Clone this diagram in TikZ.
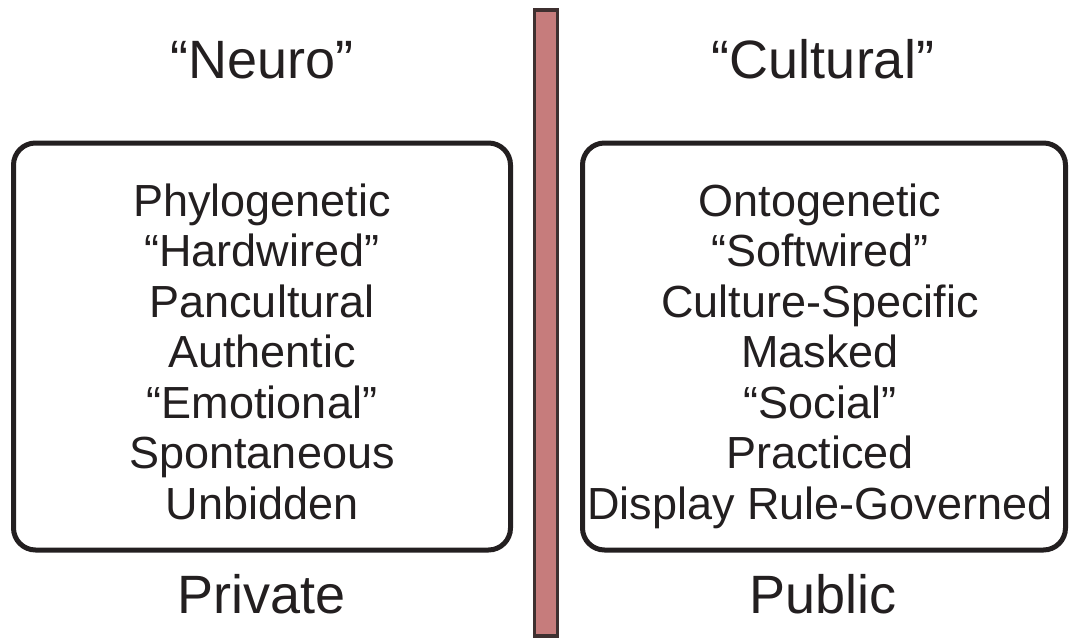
\documentclass[tikz,border=0pt]{standalone}
\usepackage{fontspec}
\setmainfont{Liberation Sans}
\definecolor{ink}{RGB}{35,31,32}
\definecolor{barfill}{RGB}{198,124,124}
\definecolor{baredge}{RGB}{62,48,48}
\begin{document}
\begin{tikzpicture}
[x=1pt, y=-1pt,
 head/.style={anchor=base, text=ink, inner sep=0pt, font=\fontsize{54}{60}\selectfont},
 item/.style={anchor=base, text=ink, inner sep=0pt, font=\fontsize{45}{50}\selectfont},
 panel/.style={draw=ink, line width=5pt, rounded corners=22pt},
]
\useasboundingbox (0,0) rectangle (1071,643);

%divider
\draw[draw=baredge, fill=barfill, line width=3.5pt] (534.5,10) rectangle (557.5,636);

%Neuro
\node[head] (neurohead) at (262,78) {“Neuro”};
\draw[panel] (13.5,143) rectangle (510.5,550);
\foreach \txt [count=\i] in {Phylogenetic, “Hardwired”, Pancultural, Authentic, “Emotional”, Spontaneous, Unbidden}
  \node[item] (neuro\i) at (262,165.5+50.5*\i) {\txt};
\node[head] (private) at (262,613) {Private};

%Cultural
\node[head] (culthead) at (823,78) {“Cultural”};
\draw[panel] (582.5,143) rectangle (1065.5,550);
\foreach \txt [count=\i] in {Ontogenetic, “Softwired”, Culture-Specific, Masked, “Social”, Practiced, Display Rule-Governed}
  \node[item] (cult\i) at (820,165.5+50.5*\i) {\txt};
\node[head] (public) at (823,613) {Public};

\end{tikzpicture}
\end{document}
